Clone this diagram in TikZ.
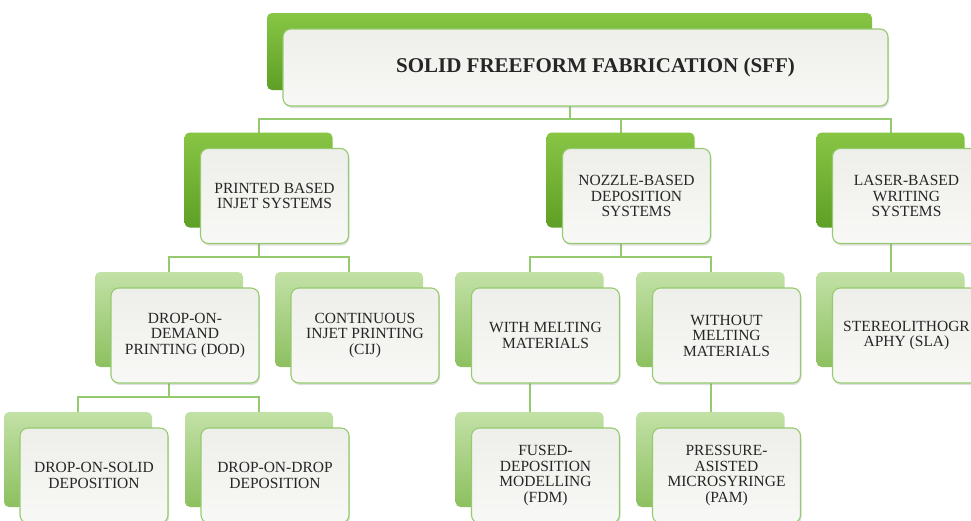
\documentclass[tikz,border=0pt]{standalone}
\usepackage{fontspec}
\setmainfont{Liberation Serif}
\usepackage{xcolor}
\usepackage{tikz}
\usetikzlibrary{backgrounds,shadows}

\definecolor{sffdark}{HTML}{88C545}
\definecolor{sffdarkb}{HTML}{5E9F25}
\definecolor{sfflite}{HTML}{C2E1A6}
\definecolor{sffliteb}{HTML}{8DC060}
\definecolor{sffline}{HTML}{95CA6E}
\definecolor{sffcard}{HTML}{EEEFEA}
\definecolor{sffcardb}{HTML}{F8F9F6}

\begin{document}
\begin{tikzpicture}[
  x=1pt, y=-1pt,
  back/.style={rounded corners=5pt, minimum width=148pt, minimum height=95pt, inner sep=0pt},
  dark/.style={back, top color=sffdark, bottom color=sffdarkb},
  lite/.style={back, top color=sfflite, bottom color=sffliteb},
  card/.style={draw=sffline, line width=1.1pt, rounded corners=8pt, minimum width=148pt, minimum height=95pt, inner sep=2pt, top color=sffcard, bottom color=sffcardb, align=center, text=black!85, font=\fontsize{15.5}{15.5}\selectfont, drop shadow={shadow xshift=1pt, shadow yshift=-2pt, opacity=0.25}},
  link/.style={draw=sffline, line width=2pt}
]
\path[use as bounding box, clip] (0,0) rectangle (971,520);

% root
\node[dark, minimum width=605pt, minimum height=77pt] (sffbk) at (569.5,51.5) {};
\node[card, minimum width=605pt, minimum height=77pt, font=\fontsize{21}{22}\selectfont\bfseries] (sff) at ([shift={(16,16)}]sffbk.center) {\hspace*{20pt}SOLID FREEFORM FABRICATION (SFF)};

% first level
\node[dark] (printbk) at (258.5,180) {};
\node[card] (print) at ([shift={(16,16)}]printbk.center) {PRINTED BASED\\INJET SYSTEMS};
\node[dark] (nozzlebk) at (620.5,180) {};
\node[card] (nozzle) at ([shift={(16,16)}]nozzlebk.center) {NOZZLE-BASED\\DEPOSITION\\SYSTEMS};
\node[dark] (laserbk) at (890.5,180) {};
\node[card] (laser) at ([shift={(16,16)}]laserbk.center) {LASER-BASED\\WRITING\\SYSTEMS};

% second level
\node[lite] (dodbk) at (169,319.5) {};
\node[card] (dod) at ([shift={(16,16)}]dodbk.center) {DROP-ON-\\DEMAND\\PRINTING (DOD)};
\node[lite] (cijbk) at (349,319.5) {};
\node[card] (cij) at ([shift={(16,16)}]cijbk.center) {CONTINUOUS\\INJET PRINTING\\(CIJ)};
\node[lite] (meltbk) at (529.5,319.5) {};
\node[card] (melt) at ([shift={(16,16)}]meltbk.center) {WITH MELTING\\MATERIALS};
\node[lite] (nomeltbk) at (710.5,319.5) {};
\node[card] (nomelt) at ([shift={(16,16)}]nomeltbk.center) {WITHOUT\\MELTING\\MATERIALS};
\node[lite] (slabk) at (890.5,319.5) {};
\node[card] (sla) at ([shift={(16,16)}]slabk.center) {STEREOLITHOGR\\APHY (SLA)};

% third level
\node[lite] (dosbk) at (78,459.5) {};
\node[card] (dos) at ([shift={(16,16)}]dosbk.center) {DROP-ON-SOLID\\DEPOSITION};
\node[lite] (dodropbk) at (259,459.5) {};
\node[card] (dodrop) at ([shift={(16,16)}]dodropbk.center) {DROP-ON-DROP\\DEPOSITION};
\node[lite] (fdmbk) at (529.5,459.5) {};
\node[card] (fdm) at ([shift={(16,16)}]fdmbk.center) {FUSED-\\DEPOSITION\\MODELLING\\(FDM)};
\node[lite] (pambk) at (710.5,459.5) {};
\node[card] (pam) at ([shift={(16,16)}]pambk.center) {PRESSURE-\\ASISTED\\MICROSYRINGE\\(PAM)};

% bus lines
\coordinate (bus1) at (0,119);
\coordinate (bus2) at (0,257);
\coordinate (bus3) at (0,397);

\begin{scope}[on background layer]
\foreach \c in {printbk,nozzlebk,laserbk} \draw[link] (sffbk.center) |- (bus1 -| \c.center) -- (\c.center);
\foreach \c in {dodbk,cijbk} \draw[link] (printbk.center) |- (bus2 -| \c.center) -- (\c.center);
\foreach \c in {meltbk,nomeltbk} \draw[link] (nozzlebk.center) |- (bus2 -| \c.center) -- (\c.center);
\foreach \c in {dosbk,dodropbk} \draw[link] (dodbk.center) |- (bus3 -| \c.center) -- (\c.center);
\draw[link] (laserbk.center) -- (slabk.center);
\draw[link] (meltbk.center) -- (fdmbk.center);
\draw[link] (nomeltbk.center) -- (pambk.center);
\end{scope}
\end{tikzpicture}
\end{document}
